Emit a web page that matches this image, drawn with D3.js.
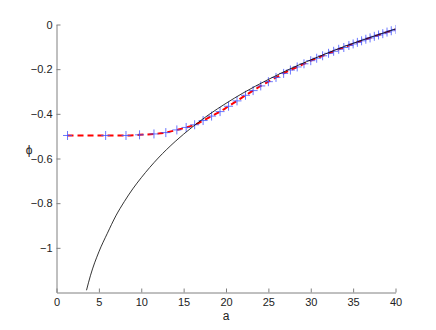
<!DOCTYPE html>
<html>
<head>
<meta charset="utf-8">
<script src="https://cdn.jsdelivr.net/npm/d3@7"></script>
<style>
  body { margin: 0; background: #fff; }
  svg { display: block; font-family: "Liberation Sans", Arial, sans-serif; }
  .axis path, .axis line { stroke: #808080; }
  .axis text { fill: #222; font-size: 11px; }
</style>
</head>
<body>
<svg id="chart" width="436" height="330"></svg>
<script>
// simulation points (blue markers + red dashed fit)
const simA = [1.3, 5.8, 8.2, 9.8, 11.5, 12.9, 14.2, 15.3, 16.3, 17.3, 18.3, 19.3, 20.3, 21.3, 22.3,
  23.2, 24.1, 25.0, 25.9, 26.8, 27.6, 28.4, 29.2, 30.0, 30.7, 31.4, 32.1, 32.7, 33.3, 33.9, 34.5,
  35.0, 35.5, 36.0, 36.5, 37.0, 37.5, 38.0, 38.5, 39.0, 39.5, 40.0];
const simPhi = [-0.497, -0.497, -0.497, -0.494, -0.490, -0.484, -0.472, -0.461, -0.449, -0.430, -0.410,
  -0.390, -0.366, -0.342, -0.317, -0.296, -0.275, -0.256, -0.237, -0.219, -0.204, -0.190, -0.176,
  -0.162, -0.151, -0.140, -0.129, -0.120, -0.111, -0.103, -0.094, -0.087, -0.080, -0.073, -0.066,
  -0.060, -0.053, -0.047, -0.041, -0.034, -0.028, -0.022];

// asymptotic curve (black)
const asymA = [3.54, 4, 5, 6, 7, 8, 9, 10, 12, 14, 16, 18, 20, 22, 25, 28, 31, 34, 37, 40];
const asymPhi = [-1.19, -1.125, -1.018, -0.935, -0.857, -0.793, -0.736, -0.686, -0.598, -0.524,
  -0.460, -0.403, -0.353, -0.307, -0.246, -0.191, -0.143, -0.098, -0.058, -0.020];

const xTicks = [0, 5, 10, 15, 20, 25, 30, 35, 40];
const yTicks = [0, -0.2, -0.4, -0.6, -0.8, -1];

const svg = d3.select("#chart");
const margin = { top: 24.5, right: 40.5, bottom: 37.5, left: 56.5 },
  width = +svg.attr("width") - margin.left - margin.right,
  height = +svg.attr("height") - margin.top - margin.bottom;

const x = d3.scaleLinear().domain([0, 40]).range([0, width]);
const y = d3.scaleLinear().domain([-1.2, 0]).range([height, 0]);

const g = svg.append("g").attr("transform", `translate(${margin.left},${margin.top})`);

g.append("defs").append("clipPath").attr("id", "clip")
  .append("rect").attr("width", width).attr("height", height);

const plot = g.append("g").attr("clip-path", "url(#clip)");

const sim = simA.map((a, i) => [a, simPhi[i]]);
const asym = asymA.map((a, i) => [a, asymPhi[i]]);

// red dashed
plot.append("path")
  .datum(sim)
  .attr("fill", "none")
  .attr("stroke", "#ff0000")
  .attr("stroke-width", 2)
  .attr("stroke-dasharray", "6,4")
  .attr("d", d3.line().x(d => x(d[0])).y(d => y(d[1])).curve(d3.curveMonotoneX));

// blue plus markers
const s = 4.5;
plot.selectAll(".mk")
  .data(sim)
  .enter()
  .append("path")
  .attr("class", "mk")
  .attr("fill", "none")
  .attr("stroke", "#4455ff")
  .attr("stroke-opacity", 0.8)
  .attr("stroke-width", 1)
  .attr("d", d => {
    const px = x(d[0]), py = y(d[1]);
    return `M${px - s},${py}H${px + s}M${px},${py - s}V${py + s}`;
  });

// black curve
plot.append("path")
  .datum(asym)
  .attr("fill", "none")
  .attr("stroke", "#000")
  .attr("stroke-width", 0.8)
  .attr("d", d3.line().x(d => x(d[0])).y(d => y(d[1])).curve(d3.curveMonotoneX));

// axes, ticks pointing inward
g.append("g")
  .attr("class", "axis")
  .attr("transform", `translate(0,${height})`)
  .call(d3.axisBottom(x).tickValues(xTicks).tickFormat(d3.format("~g"))
    .tickSizeInner(-4).tickSizeOuter(0).tickPadding(6));

g.append("g")
  .attr("class", "axis")
  .call(d3.axisLeft(y).tickValues(yTicks).tickFormat(d3.format("~g"))
    .tickSizeInner(-4).tickSizeOuter(0).tickPadding(4));

g.selectAll(".axis text").attr("font-family", null).attr("font-size", null);

svg.append("text")
  .attr("x", margin.left + width / 2)
  .attr("y", 320)
  .attr("text-anchor", "middle")
  .attr("font-size", 12)
  .attr("fill", "#222")
  .text("a");

svg.append("text")
  .attr("x", 29)
  .attr("y", 154)
  .attr("text-anchor", "middle")
  .attr("font-size", 12)
  .attr("fill", "#222")
  .text("ϕ");
</script>
</body>
</html>
